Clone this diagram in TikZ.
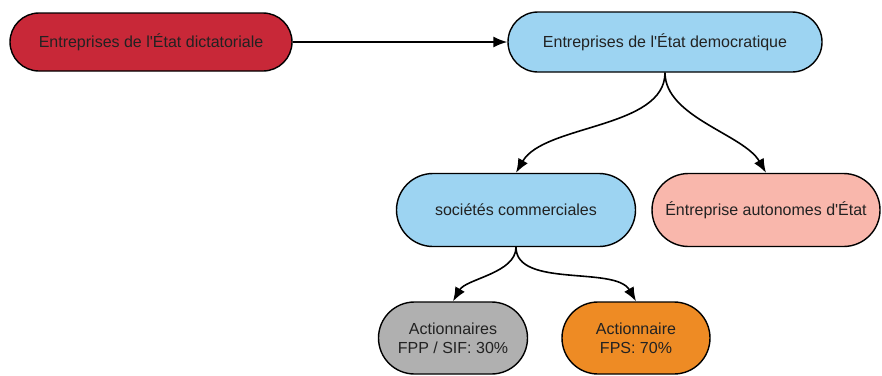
\documentclass[tikz,border=0pt]{standalone}
\usepackage{fontspec}
\setmainfont{Liberation Sans}
\usepackage{tikz}
\usetikzlibrary{arrows}
\usetikzlibrary{arrows.meta}
\usetikzlibrary{shapes.misc}

\definecolor{dictred}{RGB}{200,40,56}
\definecolor{lightblue}{RGB}{157,212,242}
\definecolor{softpink}{RGB}{249,183,172}
\definecolor{midgray}{RGB}{176,176,176}
\definecolor{darkorange}{RGB}{238,139,36}
\definecolor{inktext}{RGB}{34,34,34}

\begin{document}
\begin{tikzpicture}[x=1pt,y=-1pt,
    pill/.style={rounded rectangle,draw=black,line width=1.4pt,text=inktext,align=center,
        font=\fontsize{16}{19}\selectfont,inner sep=0pt},
    link/.style={-{Latex[length=14pt,width=11pt]},line width=1.6pt,black}]
\useasboundingbox (0,0) rectangle (882,375);

\node[pill,fill=dictred,minimum width=282pt,minimum height=58pt]
    (dict) at (151,42) {Entreprises de l\textquotesingle État dictatoriale};
\node[pill,fill=lightblue,minimum width=314pt,minimum height=60pt]
    (demo) at (665,42) {Entreprises de l\textquotesingle État democratique};

\node[pill,fill=lightblue,minimum width=239pt,minimum height=73pt]
    (soc) at (516,210) {sociétés commerciales};
\node[pill,fill=softpink,minimum width=228pt,minimum height=73pt]
    (auto) at (766,210) {Éntreprise autonomes d\textquotesingle État};

\node[pill,fill=midgray,minimum width=149pt,minimum height=72pt]
    (fpp) at (453,338) {Actionnaires\\FPP / SIF: 30\%};
\node[pill,fill=darkorange,minimum width=148pt,minimum height=72pt]
    (fps) at (636,338) {Actionnaire\\FPS: 70\%};

\draw[link] (dict) -- (demo);
\draw[link] (demo.south) to[out=-90,in=60,looseness=0.8] (soc.north);
\draw[link] (demo.south) to[out=-90,in=120,looseness=0.8] (auto.north);
\draw[link] (soc.south) to[out=-90,in=60,looseness=0.8] (fpp.north);
\draw[link] (soc.south) to[out=-90,in=120,looseness=0.8] (fps.north);

\end{tikzpicture}
\end{document}
